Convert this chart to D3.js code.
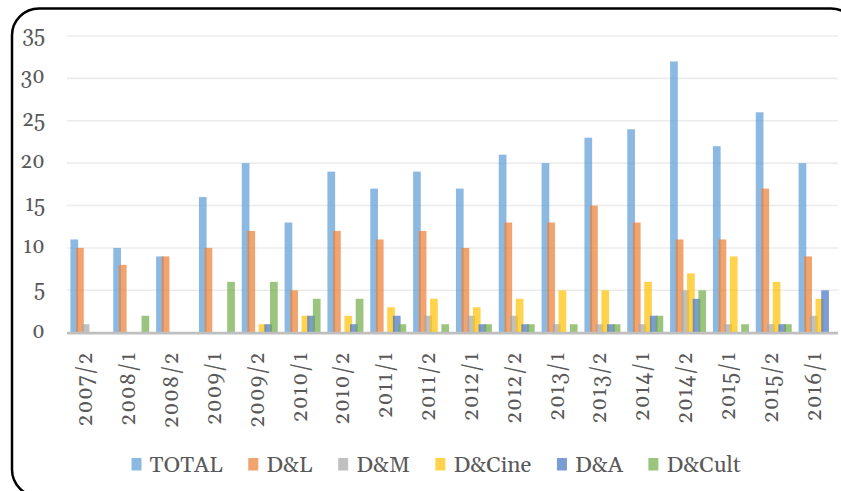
<!DOCTYPE html>
<html>
<head>
<meta charset="utf-8">
<script src="https://cdn.jsdelivr.net/npm/d3@7/dist/d3.min.js"></script>
<style>
  html, body { margin: 0; padding: 0; background: #ffffff; }
  svg { display: block; }
</style>
</head>
<body>
<svg id="chart" width="841" height="491"></svg>
<script>
// ---- data ----
const categories = ["2007/2","2008/1","2008/2","2009/1","2009/2","2010/1","2010/2","2011/1","2011/2",
  "2012/1","2012/2","2013/1","2013/2","2014/1","2014/2","2015/1","2015/2","2016/1"];
const seriesNames = ["TOTAL","D&L","D&M","D&Cine","D&A","D&Cult"];
const TOTAL  = [11,10, 9,16,20,13,19,17,19,17,21,20,23,24,32,22,26,20];
const DL     = [10, 8, 9,10,12, 5,12,11,12,10,13,13,15,13,11,11,17, 9];
const DM     = [ 1, 0, 0, 0, 0, 0, 0, 0, 2, 2, 2, 1, 1, 1, 5, 1, 1, 2];
const DCine  = [ 0, 0, 0, 0, 1, 2, 2, 3, 4, 3, 4, 5, 5, 6, 7, 9, 6, 4];
const DA     = [ 0, 0, 0, 0, 1, 2, 1, 2, 0, 1, 1, 0, 1, 2, 4, 0, 1, 5];
const DCult  = [ 0, 2, 0, 6, 6, 4, 4, 1, 1, 1, 1, 1, 1, 2, 5, 1, 1, 0];
const yTicks = [0,5,10,15,20,25,30,35];
const colors = ["#5B9BD5","#ED7D31","#A5A5A5","#FFC000","#4472C4","#70AD47"];

const seriesValues = [TOTAL, DL, DM, DCine, DA, DCult];

// ---- layout ----
const svg = d3.select("#chart");
const plotLeft = 67, plotRight = 838, plotTop = 36, plotBottom = 332.7;
const tickFont = '"Gelasio"';
const legendFont = '"Gelasio"';

// frame
svg.append("rect")
  .attr("x", 12).attr("y", 8.5)
  .attr("width", 846).attr("height", 488)
  .attr("rx", 27).attr("ry", 27)
  .attr("fill", "#ffffff")
  .attr("stroke", "#000000").attr("stroke-width", 2.5);

const y = d3.scaleLinear().domain([0, 35]).range([plotBottom, plotTop]);
const x0 = d3.scaleBand().domain(categories).range([plotLeft, plotRight]).paddingInner(0).paddingOuter(0);
const band = x0.bandwidth();
const barW = band * 0.18;
const step = band * 0.132;
const groupSpan = step * (seriesNames.length - 1) + barW;
const groupOff = (band - groupSpan) / 2;
const x1 = d3.scalePoint().domain(seriesNames).range([0, step * (seriesNames.length - 1)]);

// gridlines
svg.append("g").selectAll("line")
  .data(yTicks.filter(t => t > 0))
  .join("line")
  .attr("x1", plotLeft).attr("x2", plotRight)
  .attr("y1", d => y(d)).attr("y2", d => y(d))
  .attr("stroke", "#ececec").attr("stroke-width", 1.6);

// y tick labels
svg.append("g").selectAll("text")
  .data(yTicks)
  .join("text")
  .style("font-family", tickFont)
  .attr("x", 45)
  .attr("y", d => y(d) + 5)
  .attr("text-anchor", "end")
  .attr("font-size", 21)
  .attr("fill", "#595959")
  .text(d => d);

// bars
seriesNames.forEach((name, si) => {
  svg.append("g")
    .selectAll("rect")
    .data(categories.map((c, i) => ({ c, v: seriesValues[si][i] })))
    .join("rect")
    .attr("x", d => x0(d.c) + groupOff + x1(name))
    .attr("y", d => y(d.v))
    .attr("width", barW)
    .attr("height", d => y(0) - y(d.v))
    .attr("fill", colors[si])
    .attr("fill-opacity", 0.7);
});

// x axis line
svg.append("line")
  .attr("x1", plotLeft).attr("x2", plotRight)
  .attr("y1", y(0) + 0.5).attr("y2", y(0) + 0.5)
  .attr("stroke", "#bfbfbf").attr("stroke-width", 2.8);

// category labels
svg.append("g").selectAll("text")
  .data(categories)
  .join("text")
  .style("font-family", tickFont)
  .attr("transform", d => `translate(${x0(d) + band / 2 + 4},${y(0) + 19}) rotate(-90)`)
  .attr("text-anchor", "end")
  .attr("font-size", 21)
  .attr("letter-spacing", 0.8)
  .attr("fill", "#595959")
  .text(d => d);

// legend
const legend = svg.append("g");
let lx = 131.5;
seriesNames.forEach((name, si) => {
  legend.append("rect")
    .attr("x", lx).attr("y", 458)
    .attr("width", 10).attr("height", 12.5)
    .attr("fill", colors[si]).attr("fill-opacity", 0.7);
  const t = legend.append("text")
    .style("font-family", legendFont)
    .attr("x", lx + 18).attr("y", 471.5)
    .attr("font-size", 22.5)
    .attr("fill", "#595959")
    .text(name);
  lx = lx + 18 + t.node().getComputedTextLength() + 25.5;
});
</script>
</body>
</html>
